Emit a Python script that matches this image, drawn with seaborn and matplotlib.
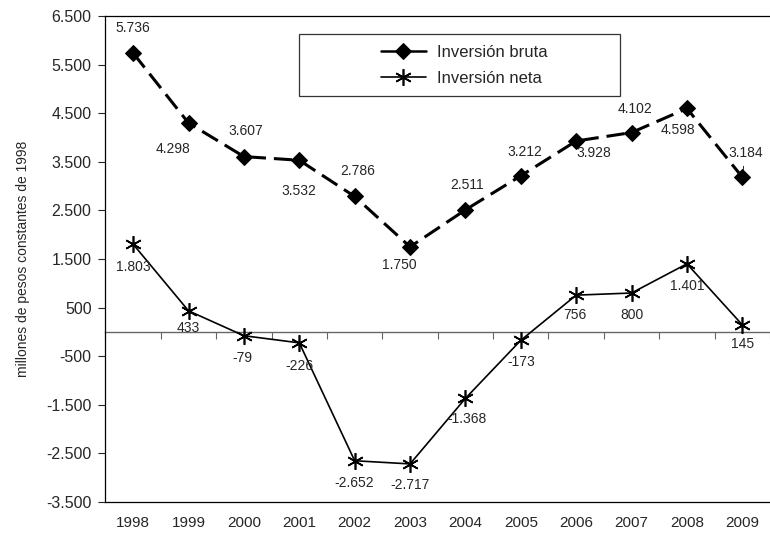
import matplotlib
matplotlib.use('Agg')
import matplotlib.pyplot as plt
import matplotlib.ticker as mticker
from matplotlib.patches import Rectangle
import pandas as pd
import seaborn as sns

# datos (millones de pesos constantes de 1998)
anios = [1998, 1999, 2000, 2001, 2002, 2003, 2004, 2005, 2006, 2007, 2008, 2009]
inv_bruta = [5736, 4298, 3607, 3532, 2786, 1750, 2511, 3212, 3928, 4102, 4598, 3184]
inv_neta = [1803, 433, -79, -226, -2652, -2717, -1368, -173, 756, 800, 1401, 145]
y_ticks = [-3500, -2500, -1500, -500, 500, 1500, 2500, 3500, 4500, 5500, 6500]

# desplazamiento de las etiquetas (pixeles)
off_bruta = [(0, 25), (-16, -26), (2, 26), (0, -31), (3, 25), (-11, -18),
             (2, 25), (4, 24), (18, -12), (3, 24), (-9, -22), (3, 24)]
off_neta = [(0, -23), (0, -17), (-2, -22), (0, -23), (0, -22), (0, -21),
            (2, -21), (0, -22), (-1, -20), (0, -22), (0, -22), (0, -19)]

sns.set_style('white')
plt.rcParams['font.family'] = ['Liberation Sans', 'DejaVu Sans']


def fmt_miles(v, pos=None):
    return f'{v:,.0f}'.replace(',', '.')


df = pd.DataFrame({'anio': anios, 'bruta': inv_bruta, 'neta': inv_neta})

fig, ax = plt.subplots(figsize=(7.7, 5.34), dpi=100)
fig.subplots_adjust(left=0.137, right=1.0, top=0.970, bottom=0.060)

sns.lineplot(data=df, x='anio', y='bruta', ax=ax, color='black', lw=2.2,
             marker='D', markersize=8, markeredgecolor='black',
             dashes=False, label='Inversión bruta')
ax.lines[-1].set_dashes((6, 2.6))
sns.lineplot(data=df, x='anio', y='neta', ax=ax, color='black', lw=1.2,
             marker=(6, 2, 0), markersize=12, markeredgewidth=1.2,
             markeredgecolor='black', label='Inversión neta')

for i, a in enumerate(anios):
    dx, dy = off_bruta[i]
    kw = {}
    if a == 2009:
        kw['arrowprops'] = dict(arrowstyle='-', color='black', lw=0.6,
                                shrinkA=2, shrinkB=5)
    ax.annotate(fmt_miles(inv_bruta[i]), (a, inv_bruta[i]), xytext=(dx, dy),
                textcoords='offset pixels', ha='center', va='center',
                fontsize=10, **kw)
    dx, dy = off_neta[i]
    ax.annotate(fmt_miles(inv_neta[i]), (a, inv_neta[i]), xytext=(dx, dy),
                textcoords='offset pixels', ha='center', va='center',
                fontsize=10)

ax.set_xlim(anios[0] - 0.5, anios[-1] + 0.5)
ax.set_ylim(y_ticks[0], y_ticks[-1])
ax.set_xticks(anios)
ax.set_yticks(y_ticks)
ax.yaxis.set_major_formatter(mticker.FuncFormatter(fmt_miles))
ax.tick_params(axis='x', length=0, pad=10, labelsize=11)
ax.tick_params(axis='y', length=5, width=0.8, direction='out', left=True,
               labelsize=11.5, pad=5)
ax.set_xlabel('')
ax.set_ylabel('millones de pesos constantes de 1998', fontsize=10, labelpad=12)

for s in ['left', 'bottom', 'top']:
    ax.spines[s].set_color('black')
    ax.spines[s].set_linewidth(0.9)
ax.spines['right'].set_visible(False)

# eje de categorias cruzando en cero
y0 = (0 - y_ticks[0]) / (y_ticks[-1] - y_ticks[0])
sec = ax.secondary_xaxis(y0)
sec.set_xticks([a - 0.5 for a in anios] + [anios[-1] + 0.5])
sec.tick_params(axis='x', direction='out', length=5, width=0.8,
                color='#666666', labelbottom=False, labeltop=False)
sec.xaxis.set_ticklabels([])
sec.spines['bottom'].set_color('#666666')
sec.spines['bottom'].set_linewidth(1.0)

# recuadro de la leyenda (mas ancho que su contenido, como en Excel)
ax.add_patch(Rectangle((0.291, 0.835), 0.483, 0.128, transform=ax.transAxes,
                       facecolor='white', edgecolor='#333333', lw=0.9,
                       zorder=4))
leg = ax.legend(loc='center', bbox_to_anchor=(0.540, 0.899), fontsize=12,
                frameon=False, labelspacing=0.65, handlelength=2.7,
                handletextpad=0.7, borderpad=0, borderaxespad=0)
leg.set_zorder(5)
leg.get_lines()[0].set_linestyle('-')
leg.get_lines()[0].set_linewidth(1.8)

fig.savefig('out.png', dpi=100)
